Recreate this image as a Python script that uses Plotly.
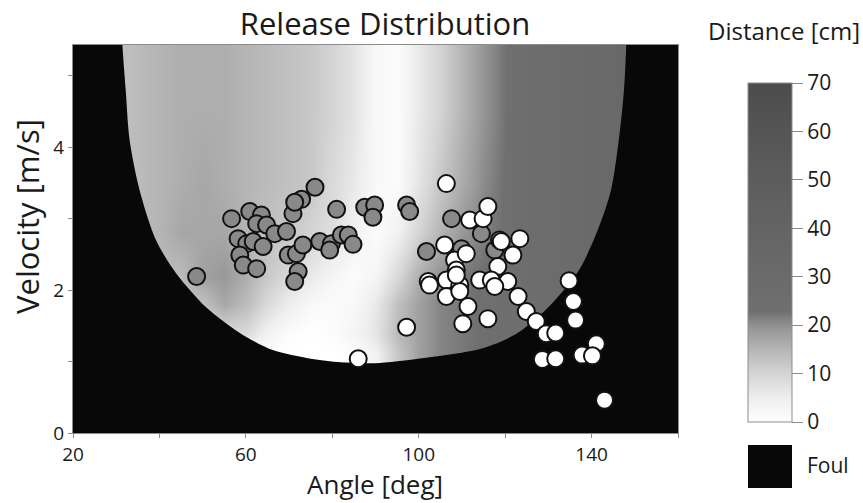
import plotly.graph_objects as go

# ---------------- data ----------------
# Distance field (cm) estimated on a coarse grid: columns = angle [deg], rows = velocity [m/s]
grid_angle = [20, 30, 35, 40, 45, 50, 55, 60, 65, 70, 75, 80, 85, 90, 95, 100, 105, 110, 115, 120, 125, 130, 140, 150, 160]
grid_velocity = [0, 1.1, 1.4, 1.8, 2.2, 2.8, 3.5, 4.5, 5.5]
distance_cm = [
    [2, 2, 2, 2, 2, 2, 2, 2, 1, 0, 0, 0, 1, 4, 12, 18, 21, 22, 23, 24, 25, 27, 31, 34, 34],
    [2, 2, 2, 2, 2, 2, 2, 2, 1, 0, 0, 0, 1, 4, 12, 18, 21, 22, 23, 24, 25, 27, 31, 34, 34],
    [9, 9, 9, 9, 9, 9, 9, 9, 4, 1, 0, 1, 3, 7, 14, 18, 21, 22, 23, 24, 25, 27, 31, 34, 34],
    [13, 13, 13, 13, 13, 13, 17, 14, 9, 5, 2, 1, 2, 6, 13, 18, 21, 22, 23, 24, 25, 27, 31, 34, 34],
    [14, 14, 14, 14, 14, 18, 19, 16, 12, 9, 6, 3, 1, 3, 9, 16, 20, 22, 23, 24, 25, 27, 31, 34, 34],
    [14, 14, 14, 15, 17, 17, 17, 15, 13, 12, 10, 8, 4, 1, 4, 10, 15, 19, 21.5, 23, 25, 27, 31, 34, 34],
    [13, 13, 14, 15, 16, 17, 16, 15, 14, 13, 12, 9, 6, 2, 1, 7, 12, 16.5, 20.5, 22.8, 25, 27, 31, 34, 34],
    [13, 13, 14, 15, 16, 16, 16, 15, 14, 13, 12, 10, 7, 2, 1, 6, 10, 15, 19.5, 22.5, 25, 27, 31, 34, 34],
    [13, 13, 14, 15, 16, 16, 16, 15, 14, 13, 12, 10, 7, 2, 1, 6, 10, 15, 19.5, 22.5, 25, 27, 31, 34, 34],
]

# Boundary of the valid (non-foul) region, left top -> bottom -> right top
boundary_angle = [31.3, 32.2, 33.1, 35.4, 39.2, 43.8, 50.8, 58.6, 66.2, 75.0, 82.0, 91.0,
                  102.5, 113.8, 118.7, 123.4, 130.0, 137.0, 141.5, 144.5, 146.3, 147.5, 148.1]
boundary_velocity = [5.6, 4.8, 4.1, 3.4, 2.7, 2.24, 1.76, 1.4, 1.16, 1.04, 0.99, 0.98,
                     1.06, 1.17, 1.27, 1.42, 1.76, 2.27, 2.85, 3.4, 4.1, 4.8, 5.6]

# Gray markers
gray_angle = [48.6, 56.7, 60.9, 63.6, 62.5, 64.8, 66.7, 69.4, 58.2, 60.2, 61.7, 64.0, 58.6, 59.4,
              62.5, 69.8, 71.7, 70.9, 72.9, 71.3, 72.1, 71.3, 76.0, 81.0, 87.5, 89.8, 89.4, 97.2,
              97.9, 77.1, 79.8, 79.4, 82.1, 83.7, 84.8, 73.2, 101.8, 107.6, 114.5, 109.9, 117.6]
gray_velocity = [2.19, 3.00, 3.10, 3.05, 2.93, 2.91, 2.79, 2.82, 2.72, 2.65, 2.68, 2.61, 2.49, 2.35,
                 2.30, 2.49, 2.51, 3.07, 3.27, 3.23, 2.26, 2.12, 3.44, 3.13, 3.16, 3.19, 3.02, 3.19,
                 3.10, 2.68, 2.65, 2.56, 2.77, 2.77, 2.64, 2.63, 2.54, 3.00, 2.79, 2.58, 2.56]

# White markers
white_angle = [106.4, 111.8, 114.9, 116.0, 118.7, 123.4, 106.0, 108.3, 111.0, 121.8, 118.3, 108.7,
               102.2, 106.4, 114.1, 116.8, 120.6, 109.5, 106.4, 109.5, 111.4, 110.2, 116.0, 123.0,
               124.9, 127.2, 129.5, 131.7, 134.8, 135.8, 136.3, 128.6, 131.7, 141.1, 137.8, 140.2,
               143.0, 86.0, 97.2, 102.5, 119.1, 108.7, 117.6]
white_velocity = [3.49, 2.98, 3.00, 3.17, 2.70, 2.72, 2.63, 2.42, 2.51, 2.49, 2.33, 2.28,
                  2.12, 2.14, 2.14, 2.14, 2.12, 2.07, 1.91, 1.98, 1.77, 1.53, 1.60, 1.91,
                  1.70, 1.56, 1.39, 1.40, 2.13, 1.84, 1.58, 1.03, 1.04, 1.25, 1.09, 1.08,
                  0.46, 1.04, 1.48, 2.07, 2.68, 2.21, 2.05]

x_tick_vals = [20, 40, 60, 80, 100, 120, 140, 160]
x_tick_text = ["20", "", "60", "", "100", "", "140", ""]
y_tick_vals = [0, 1, 2, 3, 4, 5]
y_tick_text = ["0", "", "2", "", "4", ""]
cbar_ticks = [0, 10, 20, 30, 40, 50, 60, 70]

# ---------------- figure ----------------
FONT = "Open Sans"
TXT = "#1a1a1a"
AXIS_GRAY = "#8c8c8c"
FOUL = "#080808"

W, H = 863, 503
L, R, T, B = 73, 678, 45, 433          # plot area in pixels


def px_x(p):
    return (p - L) / (R - L)


def px_y(p):
    return (B - p) / (B - T)


colorscale = [
    [0.0, "#ffffff"], [0.071, "#eeeeee"], [0.143, "#d4d4d4"], [0.214, "#b5b5b5"],
    [0.271, "#999999"], [0.30, "#858585"], [0.325, "#6f6f6f"], [0.571, "#646464"],
    [0.857, "#555555"], [1.0, "#4c4c4c"],
]

fig = go.Figure()

fig.add_trace(go.Heatmap(
    x=grid_angle, y=grid_velocity, z=distance_cm,
    zmin=0, zmax=70, zsmooth="best", colorscale=colorscale,
    hoverinfo="skip",
    colorbar=dict(
        x=px_x(748), xanchor="left", xref="paper",
        y=px_y(252.5), yanchor="middle",
        thickness=44, thicknessmode="pixels",
        len=339, lenmode="pixels",
        outlinewidth=1, outlinecolor=AXIS_GRAY,
        ticks="outside", ticklen=11, tickcolor=AXIS_GRAY, tickwidth=1,
        tickvals=cbar_ticks,
        tickfont=dict(family=FONT, size=21, color=TXT),
        xpad=0, ypad=0,
    ),
))

# Foul region: everything outside the boundary curve (padded well outside the axes)
foul_x = [-40, -40, boundary_angle[0] - 0.2, boundary_angle[0] - 0.1] + boundary_angle + \
         [boundary_angle[-1] + 0.1, boundary_angle[-1] + 0.2, 220, 220, -40]
foul_y = [-3, 10, 10, 7.5] + boundary_velocity + [7.5, 10, 10, -3, -3]
fig.add_trace(go.Scatter(
    x=foul_x, y=foul_y, mode="lines", fill="toself",
    fillcolor=FOUL, line=dict(width=0, color=FOUL, shape="spline", smoothing=0.8),
    hoverinfo="skip", showlegend=False,
))

fig.add_trace(go.Scatter(
    x=gray_angle, y=gray_velocity, mode="markers",
    marker=dict(size=17, color="#898989", line=dict(color="#111111", width=2)),
    showlegend=False,
))
fig.add_trace(go.Scatter(
    x=white_angle, y=white_velocity, mode="markers",
    marker=dict(size=17, color="#ffffff", line=dict(color="#111111", width=2)),
    showlegend=False,
))

axis_common = dict(
    showgrid=False, zeroline=False, showline=True, linecolor=AXIS_GRAY, linewidth=1,
    mirror=True, ticks="outside", ticklen=4, tickcolor=AXIS_GRAY, tickwidth=1,
    tickfont=dict(family=FONT, size=19, color=TXT), automargin=False,
)

fig.update_layout(
    width=W, height=H,
    margin=dict(l=L, r=W - R, t=T, b=H - B, autoexpand=False),
    paper_bgcolor="white", plot_bgcolor="white",
    font=dict(family=FONT, color=TXT),
    title=dict(text="Release Distribution", x=px_x(385), xref="paper", xanchor="center",
               y=1 - 24 / H, yref="container", yanchor="middle",
               font=dict(family=FONT, size=31, color=TXT)),
    xaxis=dict(range=[20, 160], tickvals=x_tick_vals, ticktext=x_tick_text, **axis_common),
    yaxis=dict(range=[0, 5.43], tickvals=y_tick_vals, ticktext=y_tick_text, **axis_common),
    showlegend=False,
)

# Axis titles
fig.add_annotation(text="Angle [deg]", xref="paper", yref="paper",
                   x=px_x(375), y=px_y(503), xanchor="center", yanchor="bottom",
                   showarrow=False, borderpad=0,
                   font=dict(family=FONT, size=26, color=TXT))
fig.add_annotation(text="Velocity [m/s]", textangle=-90, xref="paper", yref="paper",
                   x=px_x(27), y=px_y(217), xanchor="center", yanchor="middle",
                   showarrow=False, font=dict(family=FONT, size=31, color=TXT))

# Colorbar title and foul key
fig.add_annotation(text="Distance [cm]", xref="paper", yref="paper",
                   x=px_x(784), y=px_y(31), xanchor="center", yanchor="middle",
                   showarrow=False, font=dict(family=FONT, size=24, color=TXT))
fig.add_shape(type="rect", xref="paper", yref="paper",
              x0=px_x(748), x1=px_x(792), y0=px_y(488), y1=px_y(445),
              fillcolor=FOUL, line=dict(width=0))
fig.add_annotation(text="Foul", xref="paper", yref="paper",
                   x=px_x(805), y=px_y(465), xanchor="left", yanchor="middle",
                   showarrow=False, font=dict(family=FONT, size=21, color=TXT))

fig.write_html("out.html")
